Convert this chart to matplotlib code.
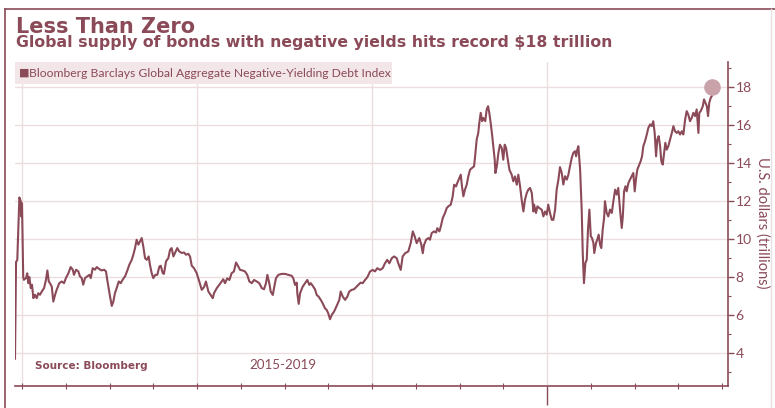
import matplotlib.pyplot as plt
from matplotlib.patches import Rectangle
from matplotlib.lines import Line2D
import numpy as np

plt.rcParams['font.family'] = ['Lato', 'DejaVu Sans']

# colours picked off the (tinted) reference
ink = '#8b4a58'
grid_c = '#eedde0'
band_c = '#f2e6e8'
dot_c = '#c9a2aa'

# time in years since start of 2015
t = [-0.040, -0.034, -0.027, -0.015, -0.007, -0.004, 0.000, 0.004, 0.007, 0.011,
     0.023, 0.030, 0.036, 0.042, 0.050, 0.057, 0.065, 0.074, 0.084, 0.093,
     0.103, 0.113, 0.126, 0.137, 0.145, 0.153, 0.160, 0.170, 0.179, 0.189,
     0.198, 0.213, 0.227, 0.240, 0.251, 0.265, 0.278, 0.290, 0.297, 0.309,
     0.322, 0.331, 0.341, 0.350, 0.360, 0.373, 0.385, 0.393, 0.404, 0.417,
     0.427, 0.442, 0.455, 0.469, 0.480, 0.487, 0.495, 0.503, 0.513, 0.522,
     0.531, 0.541, 0.553, 0.564, 0.575, 0.589, 0.602, 0.613, 0.627, 0.636,
     0.646, 0.655, 0.665, 0.674, 0.684, 0.693, 0.703, 0.713, 0.724, 0.731,
     0.741, 0.750, 0.762, 0.773, 0.785, 0.793, 0.804, 0.811, 0.823, 0.836,
     0.846, 0.855, 0.865, 0.874, 0.887, 0.899, 0.913, 0.926, 0.937, 0.950,
     0.960, 0.970, 0.983, 0.998, 1.013, 1.027, 1.040, 1.051, 1.065, 1.078,
     1.090, 1.097, 1.113, 1.127, 1.141, 1.150, 1.160, 1.173, 1.185, 1.198,
     1.211, 1.223, 1.236, 1.246, 1.261, 1.274, 1.287, 1.299, 1.313, 1.326,
     1.341, 1.356, 1.370, 1.383, 1.394, 1.402, 1.413, 1.421, 1.433, 1.440,
     1.451, 1.465, 1.484, 1.503, 1.522, 1.541, 1.550, 1.560, 1.570, 1.573,
     1.581, 1.589, 1.604, 1.617, 1.630, 1.642, 1.650, 1.661, 1.674, 1.684,
     1.695, 1.707, 1.718, 1.731, 1.741, 1.750, 1.760, 1.770, 1.783, 1.798,
     1.813, 1.821, 1.833, 1.846, 1.859, 1.870, 1.884, 1.897, 1.909, 1.922,
     1.935, 1.947, 1.960, 1.973, 1.989, 2.004, 2.017, 2.030, 2.046, 2.061,
     2.074, 2.087, 2.099, 2.113, 2.126, 2.141, 2.150, 2.164, 2.175, 2.189,
     2.207, 2.221, 2.233, 2.244, 2.255, 2.270, 2.282, 2.290, 2.297, 2.309,
     2.322, 2.331, 2.341, 2.354, 2.366, 2.373, 2.385, 2.393, 2.404, 2.417,
     2.427, 2.436, 2.450, 2.461, 2.469, 2.480, 2.487, 2.499, 2.507, 2.514,
     2.522, 2.531, 2.541, 2.550, 2.560, 2.571, 2.583, 2.589, 2.598, 2.607,
     2.613, 2.621, 2.629, 2.636, 2.647, 2.655, 2.663, 2.670, 2.678, 2.686,
     2.693, 2.701, 2.705, 2.713, 2.722, 2.731, 2.741, 2.750, 2.758, 2.766,
     2.773, 2.785, 2.798, 2.807, 2.817, 2.827, 2.836, 2.846, 2.855, 2.865,
     2.874, 2.884, 2.893, 2.903, 2.913, 2.922, 2.926, 2.937, 2.945, 2.956,
     2.970, 2.979, 2.989, 2.998, 3.007, 3.017, 3.027, 3.036, 3.046, 3.055,
     3.065, 3.074, 3.084, 3.093, 3.103, 3.113, 3.122, 3.131, 3.141, 3.150,
     3.160, 3.166, 3.173, 3.179, 3.189, 3.198, 3.204, 3.211, 3.219, 3.227,
     3.234, 3.242, 3.250, 3.257, 3.265, 3.270, 3.280, 3.287, 3.295, 3.303,
     3.310, 3.318, 3.326, 3.331, 3.341, 3.350, 3.360, 3.370, 3.379, 3.389,
     3.398, 3.407, 3.417, 3.427, 3.433, 3.440, 3.448, 3.455, 3.465, 3.474,
     3.484, 3.493, 3.501, 3.509, 3.516, 3.527, 3.535, 3.543, 3.550, 3.560,
     3.570, 3.579, 3.589, 3.598, 3.607, 3.615, 3.623, 3.630, 3.638, 3.646,
     3.653, 3.661, 3.669, 3.676, 3.684, 3.693, 3.703, 3.713, 3.722, 3.731,
     3.741, 3.750, 3.760, 3.770, 3.779, 3.789, 3.798, 3.807, 3.817, 3.827,
     3.836, 3.846, 3.855, 3.865, 3.870, 3.878, 3.890, 3.897, 3.905, 3.913,
     3.920, 3.927, 3.935, 3.941]

# negative-yielding debt, US$ trillions
debt = [3.7, 8.8, 8.9, 12.2, 12.0, 11.2, 11.9, 9.6, 8.0, 7.86,
        7.95, 8.2, 7.68, 8.0, 7.42, 7.6, 6.89, 7.07, 6.89, 7.15,
        7.07, 7.24, 7.42, 7.86, 8.35, 7.77, 7.68, 7.5, 6.71, 7.07,
        7.33, 7.68, 7.77, 7.68, 7.95, 8.2, 8.53, 8.39, 8.12, 8.39,
        8.3, 8.04, 7.95, 7.6, 7.95, 8.04, 8.12, 7.95, 8.47, 8.39,
        8.53, 8.42, 8.35, 8.39, 8.3, 7.86, 7.42, 6.98, 6.48, 6.71,
        7.15, 7.42, 7.77, 7.68, 7.86, 8.04, 8.35, 8.65, 8.91, 9.18,
        9.53, 9.97, 9.71, 9.88, 10.06, 9.62, 9.0, 8.91, 9.09, 8.65,
        8.21, 7.95, 8.12, 8.12, 8.56, 8.6, 8.21, 8.17, 8.83, 9.0,
        9.44, 9.53, 9.09, 9.27, 9.53, 9.35, 9.27, 9.3, 9.18, 9.23,
        9.09, 8.6, 8.47, 8.21, 7.77, 7.33, 7.47, 7.77, 7.24, 7.06,
        6.89, 7.15, 7.42, 7.59, 7.77, 7.89, 7.68, 7.94, 7.85, 8.21,
        8.3, 8.77, 8.56, 8.38, 8.35, 8.3, 8.12, 7.77, 7.68, 7.85,
        7.77, 7.68, 7.42, 7.36, 7.68, 8.12, 7.68, 7.24, 7.06, 7.42,
        7.94, 8.12, 8.17, 8.17, 8.12, 8.07, 7.94, 7.59, 7.71, 7.15,
        6.59, 7.15, 7.5, 7.68, 7.85, 7.59, 7.68, 7.54, 7.36, 7.06,
        6.97, 6.8, 6.62, 6.36, 6.27, 6.09, 5.78, 6.01, 6.18, 6.48,
        6.8, 7.24, 6.97, 6.8, 6.97, 7.24, 7.33, 7.36, 7.47, 7.59,
        7.71, 7.68, 7.85, 7.99, 8.3, 8.38, 8.3, 8.47, 8.38, 8.47,
        8.73, 8.91, 8.73, 9.0, 9.09, 9.0, 8.73, 8.38, 9.09, 9.26,
        9.35, 9.79, 10.41, 10.14, 9.79, 10.06, 9.7, 9.26, 9.7, 9.97,
        10.06, 9.97, 10.32, 10.41, 10.35, 10.58, 10.41, 10.67, 11.11, 11.38,
        11.64, 11.73, 11.82, 12.26, 12.87, 12.78, 12.96, 13.22, 13.4, 12.78,
        12.26, 12.61, 12.87, 13.31, 13.66, 13.75, 13.84, 14.37, 15.25, 15.6,
        16.13, 16.66, 16.22, 16.39, 16.22, 16.83, 17.01, 16.66, 16.13, 15.51,
        14.9, 14.19, 13.49, 13.84, 14.54, 14.98, 14.81, 14.19, 14.98, 14.81,
        14.37, 13.66, 13.4, 13.05, 13.31, 12.87, 13.4, 12.78, 12.08, 11.46,
        12.08, 12.43, 12.61, 12.7, 12.43, 11.46, 11.82, 11.38, 11.73, 11.64,
        11.55, 11.2, 11.46, 11.29, 11.82, 11.38, 11.02, 11.02, 11.55, 12.61,
        13.14, 13.8, 13.49, 12.88, 13.32, 13.14, 13.4, 13.84, 14.28, 14.55,
        14.64, 14.37, 14.72, 14.9, 13.67, 11.56, 9.27, 7.68, 8.74, 8.92,
        10.5, 11.56, 10.15, 10.06, 9.8, 9.27, 9.8, 9.97, 10.24, 9.71,
        9.53, 10.5, 11.12, 12.0, 11.38, 11.2, 11.56, 11.38, 12.0, 12.61,
        12.35, 12.7, 11.56, 10.59, 11.2, 12.52, 12.79, 12.52, 12.96, 13.14,
        13.32, 13.49, 12.52, 13.23, 13.67, 13.93, 14.11, 14.37, 14.9, 15.17,
        15.52, 15.87, 16.05, 15.96, 16.22, 15.6, 14.37, 15.25, 15.43, 14.9,
        14.11, 13.93, 14.55, 15.08, 14.72, 14.9, 15.25, 15.6, 15.96, 15.69,
        15.6, 15.69, 15.52, 15.69, 15.52, 16.31, 16.75, 16.57, 16.22, 16.4,
        16.66, 16.49, 16.84, 15.6, 16.66, 16.75, 17.01, 17.37, 17.19, 17.01,
        16.49, 17.19, 17.45, 17.54]

record_t = 3.941
record_val = 18.0

start_year = 2015
x = [start_year + v for v in t]

fig = plt.figure(figsize=(7.75, 4.08), dpi=100)
ax = fig.add_axes([15/775, 22/408, 713/775, 324/408])

ax.set_xlim(2014.96, 2019.034)
ax.set_ylim(2.26, 19.34)

# gridlines
for yv in range(4, 19, 2):
    ax.axhline(yv, color=grid_c, lw=1.0, zorder=0)
for yr in [2015, 2016, 2017, 2018]:
    ax.axvline(yr, color=grid_c, lw=1.0, zorder=0)

# legend band at top-left of plot
ax.add_patch(Rectangle((0, 0.932), 0.529, 0.068, transform=ax.transAxes,
                       facecolor=band_c, edgecolor='none', zorder=0.5))
ax.text(0.006, 0.966, '■', transform=ax.transAxes, color=ink, fontsize=8,
        family='DejaVu Sans', va='center', ha='left')
ax.text(0.019, 0.966, 'Bloomberg Barclays Global Aggregate Negative-Yielding Debt Index',
        transform=ax.transAxes, color=ink, fontsize=8.7, va='center', ha='left')

ax.plot(x, debt, color=ink, lw=1.5, zorder=3)
ax.scatter([start_year + record_t], [record_val], s=120, color=dot_c,
           edgecolors=dot_c, zorder=4, clip_on=False)

# axes styling
for s in ['left', 'top']:
    ax.spines[s].set_visible(False)
for s in ['right', 'bottom']:
    ax.spines[s].set_color(ink)
    ax.spines[s].set_linewidth(1.2)

ax.yaxis.tick_right()
ax.set_yticks(range(4, 19, 2))
ax.set_yticks(range(3, 20, 2), minor=True)
ax.tick_params(axis='y', which='major', direction='out', length=4, width=1,
               color=ink, labelcolor=ink, labelsize=10, pad=1.5)
ax.tick_params(axis='y', which='minor', direction='out', length=2, width=0.8,
               color=ink)

ax.set_xticks([2018])
ax.set_xticks(np.arange(2015, 2019.01, 0.25), minor=True)
ax.tick_params(axis='x', which='major', direction='out', length=14, width=1,
               color=ink, labelbottom=False)
ax.tick_params(axis='x', which='minor', direction='inout', length=5, width=0.8,
               color=ink)

ax.text(1.049, 0.503, 'U.S. dollars (trillions)', transform=ax.transAxes,
        rotation=270, ha='center', va='center', color=ink, fontsize=10.5)

ax.text(0.028, 0.062, 'Source: Bloomberg', transform=ax.transAxes,
        family='DejaVu Sans', fontweight='bold', fontsize=7.5, color=ink,
        va='center', ha='left')
ax.text(0.376, 0.065, '2015-2019', transform=ax.transAxes, fontsize=9.6,
        color=ink, va='center', ha='center')

# titles
fig.text(16/775, 1 - 33/408, 'Less Than Zero', family='DejaVu Sans',
         fontweight='bold', fontsize=15, color=ink, va='baseline', ha='left')
fig.text(16/775, 1 - 47/408,
         'Global supply of bonds with negative yields hits record $18 trillion',
         family='DejaVu Sans', fontweight='bold', fontsize=11.3, color=ink,
         va='baseline', ha='left')

# outer frame
fig.add_artist(Line2D([5/775, 1], [1 - 9/408, 1 - 9/408], color=ink, lw=1.2,
                      transform=fig.transFigure))
fig.add_artist(Line2D([5/775, 5/775], [0, 1 - 9/408], color=ink, lw=1.2,
                      transform=fig.transFigure))
fig.add_artist(Line2D([771/775, 771/775], [0, 1 - 9/408], color='#e6e0e1', lw=1,
                      transform=fig.transFigure))

fig.savefig('out.png', dpi=100, facecolor='white')
